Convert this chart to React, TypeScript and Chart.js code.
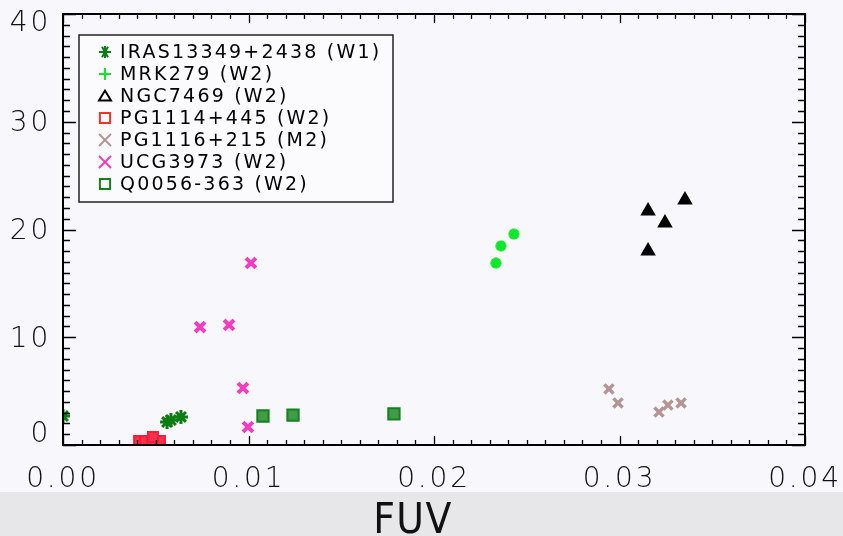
import React, { useEffect, useRef } from 'react';
import { Chart, registerables } from 'chart.js';

Chart.register(...registerables);

// ---- data ----
const irasX = [0.0, 0.00561, 0.00582, 0.00636];
const irasY = [2.69, 2.13, 2.32, 2.6];

const mrkX = [0.02431, 0.02361, 0.02334];
const mrkY = [19.58, 18.47, 16.89];

const ngcX = [0.03154, 0.03353, 0.03245, 0.03154];
const ngcY = [21.72, 22.74, 20.6, 18.0];

const pg1114X = [0.0041, 0.00442, 0.0048, 0.00523, 0.00485];
const pg1114Y = [0.37, 0.37, 0.37, 0.37, 0.74];

const pg1116X = [0.02943, 0.02992, 0.03213, 0.03261, 0.03332];
const pg1116Y = [5.2, 3.9, 3.06, 3.71, 3.9];

const ucgX = [0.01013, 0.00739, 0.00895, 0.0097, 0.00997];
const ucgY = [16.89, 10.95, 11.14, 5.29, 1.67];

const q0056X = [0.01078, 0.0124, 0.01784];
const q0056Y = [2.69, 2.78, 2.88];

const seriesLabels = [
  'IRAS13349+2438 (W1)',
  'MRK279 (W2)',
  'NGC7469 (W2)',
  'PG1114+445 (W2)',
  'PG1116+215 (M2)',
  'UCG3973 (W2)',
  'Q0056-363 (W2)',
];

const xMin = 0;
const xMax = 0.04;
const xMajorStep = 0.01;
const xMinorStep = 0.001;
const yMin = 0;
const yMax = 40;
const yMajorStep = 10;
const yMinorStep = 1;
const xTitle = 'FUV';

const pts = (xs: number[], ys: number[]) => xs.map((x, i) => ({ x, y: ys[i] }));

const TICK_FONT = "200 28px 'DejaVu Sans'";
const TICK_COLOR = '#111';

const bgPlugin = {
  id: 'bgPlugin',
  beforeDraw(chart: any) {
    const { ctx, width, height } = chart;
    ctx.save();
    ctx.fillStyle = '#f8f8fc';
    ctx.fillRect(0, 0, width, height);
    ctx.fillStyle = '#e7e7e9';
    ctx.fillRect(0, 492, width, height - 492);
    ctx.restore();
    (ctx as any).letterSpacing = '2.8px';
  },
};

const framePlugin = {
  id: 'framePlugin',
  afterDraw(chart: any) {
    const { ctx, chartArea: a, scales } = chart;
    const xs = scales.x;
    const ys = scales.y;
    ctx.save();
    (ctx as any).letterSpacing = '0px';
    ctx.strokeStyle = '#000';
    ctx.lineWidth = 1.3;
    ctx.beginPath();
    const nx = Math.round((xMax - xMin) / xMinorStep);
    for (let i = 0; i <= nx; i++) {
      const v = xMin + i * xMinorStep;
      const px = Math.round(xs.getPixelForValue(v)) + 0.5;
      const major = Math.abs(v / xMajorStep - Math.round(v / xMajorStep)) < 1e-6;
      const len = major ? 9 : 5;
      ctx.moveTo(px, a.bottom);
      ctx.lineTo(px, a.bottom - len);
      ctx.moveTo(px, a.top);
      ctx.lineTo(px, a.top + len);
    }
    const ny = Math.round((yMax - yMin) / yMinorStep);
    for (let i = 0; i <= ny; i++) {
      const v = yMin + i * yMinorStep;
      const py = Math.round(ys.getPixelForValue(v)) + 0.5;
      const major = Math.abs(v / yMajorStep - Math.round(v / yMajorStep)) < 1e-6;
      const len = major ? 13 : 7;
      ctx.moveTo(a.left, py);
      ctx.lineTo(a.left + len, py);
      ctx.moveTo(a.right, py);
      ctx.lineTo(a.right - len, py);
    }
    ctx.stroke();
    ctx.lineWidth = 2;
    ctx.strokeRect(a.left, a.top, a.right - a.left, a.bottom - a.top);

    // y tick labels (end labels sit inside the frame, as in the original)
    ctx.font = TICK_FONT;
    ctx.fillStyle = TICK_COLOR;
    ctx.textAlign = 'right';
    ctx.textBaseline = 'middle';
    (ctx as any).letterSpacing = '2.8px';
    ys.ticks.forEach((t: any) => {
      const py = ys.getPixelForValue(t.value);
      let off = 2;
      if (t.value === yMin) off = -10;
      if (t.value === yMax) off = 10;
      ctx.fillText(String(t.value), a.left - 12, py + off);
    });

    // x axis title
    (ctx as any).letterSpacing = '1.5px';
    ctx.font = "42px 'DejaVu Sans Condensed', 'Liberation Sans Narrow', sans-serif";
    ctx.fillStyle = '#111';
    ctx.textAlign = 'center';
    ctx.textBaseline = 'alphabetic';
    ctx.fillText(xTitle, 413, 533);
    ctx.restore();
  },
};

function drawSymbol(ctx: CanvasRenderingContext2D, shape: string, color: string, x: number, y: number, r: number) {
  ctx.save();
  ctx.strokeStyle = color;
  ctx.lineWidth = 2;
  ctx.beginPath();
  if (shape === 'asterisk') {
    ctx.moveTo(x - r, y); ctx.lineTo(x + r, y);
    for (const ang of [60, 120]) {
      const dx = Math.cos((ang * Math.PI) / 180) * r;
      const dy = Math.sin((ang * Math.PI) / 180) * r;
      ctx.moveTo(x - dx, y - dy); ctx.lineTo(x + dx, y + dy);
    }
    ctx.moveTo(x, y - r); ctx.lineTo(x, y + r);
  } else if (shape === 'plus') {
    ctx.moveTo(x - r, y); ctx.lineTo(x + r, y);
    ctx.moveTo(x, y - r); ctx.lineTo(x, y + r);
  } else if (shape === 'triangle') {
    ctx.moveTo(x - r, y + r * 0.75);
    ctx.lineTo(x + r, y + r * 0.75);
    ctx.lineTo(x, y - r * 0.9);
    ctx.closePath();
  } else if (shape === 'square') {
    ctx.rect(x - r * 0.85, y - r * 0.85, r * 1.7, r * 1.7);
  } else if (shape === 'x') {
    ctx.moveTo(x - r, y - r); ctx.lineTo(x + r, y + r);
    ctx.moveTo(x - r, y + r); ctx.lineTo(x + r, y - r);
  }
  ctx.stroke();
  ctx.restore();
}

const legendPlugin = {
  id: 'boxLegend',
  afterDraw(chart: any) {
    const { ctx } = chart;
    const left = 79, top = 35, right = 393, bottom = 202;
    ctx.save();
    (ctx as any).letterSpacing = '0px';
    ctx.fillStyle = '#fbfbfe';
    ctx.fillRect(left, top, right - left, bottom - top);
    ctx.strokeStyle = '#222';
    ctx.lineWidth = 1.5;
    ctx.strokeRect(left, top, right - left, bottom - top);
    const rowH = 22;
    const y0 = 52;
    chart.data.datasets.forEach((ds: any, i: number) => {
      const cy = y0 + i * rowH;
      drawSymbol(ctx, ds.legendShape, ds.legendColor, 105, cy, 6);
      (ctx as any).letterSpacing = '2.2px';
      ctx.fillStyle = '#000';
      ctx.font = "19px 'DejaVu Sans'";
      ctx.textAlign = 'left';
      ctx.textBaseline = 'middle';
      ctx.fillText(ds.label, 120, cy + 1);
    });
    ctx.restore();
  },
};

export default function App() {
  const ref = useRef<HTMLCanvasElement | null>(null);

  useEffect(() => {
    document.body.style.margin = '0';
    if (!ref.current) return;
    const tickFont = { family: "'DejaVu Sans'", size: 28, weight: '200' as any };
    const chart = new Chart(ref.current, {
      type: 'scatter',
      data: {
        datasets: [
          {
            label: seriesLabels[0], data: pts(irasX, irasY),
            pointStyle: 'star', radius: 7, borderWidth: 3,
            borderColor: '#0b7d12', backgroundColor: '#0b7d12',
            legendShape: 'asterisk', legendColor: '#0b7d12',
          } as any,
          {
            label: seriesLabels[1], data: pts(mrkX, mrkY),
            pointStyle: 'star', radius: 5.5, borderWidth: 3.5,
            borderColor: '#11e62a', backgroundColor: '#11e62a',
            legendShape: 'plus', legendColor: '#11e62a',
          } as any,
          {
            label: seriesLabels[2], data: pts(ngcX, ngcY),
            pointStyle: 'triangle', radius: 7, borderWidth: 2,
            borderColor: '#000', backgroundColor: '#000',
            legendShape: 'triangle', legendColor: '#000',
          } as any,
          {
            label: seriesLabels[3], data: pts(pg1114X, pg1114Y),
            pointStyle: 'rect', radius: 7, borderWidth: 2,
            borderColor: '#f0203a', backgroundColor: '#f8324a',
            legendShape: 'square', legendColor: '#ee3322',
          } as any,
          {
            label: seriesLabels[4], data: pts(pg1116X, pg1116Y),
            pointStyle: 'crossRot', radius: 6.5, borderWidth: 3.5,
            borderColor: '#b49594', backgroundColor: '#b49594',
            legendShape: 'x', legendColor: '#b49594',
          } as any,
          {
            label: seriesLabels[5], data: pts(ucgX, ucgY),
            pointStyle: 'crossRot', radius: 7, borderWidth: 4,
            borderColor: '#f53cc0', backgroundColor: '#f53cc0',
            legendShape: 'x', legendColor: '#f53cc0',
          } as any,
          {
            label: seriesLabels[6], data: pts(q0056X, q0056Y),
            pointStyle: 'rect', radius: 8, borderWidth: 2,
            borderColor: '#13831c', backgroundColor: 'rgba(19,131,28,0.8)',
            legendShape: 'square', legendColor: '#13831c',
          } as any,
        ],
      },
      options: {
        animation: false,
        responsive: false,
        maintainAspectRatio: false,
        layout: { padding: { top: 14, right: 38, left: 0, bottom: 0 } },
        plugins: {
          legend: { display: false },
          tooltip: { enabled: false },
        },
        scales: {
          x: {
            type: 'linear',
            min: xMin,
            max: xMax,
            grid: { display: false },
            border: { display: false },
            ticks: {
              stepSize: xMajorStep,
              padding: 10,
              color: TICK_COLOR,
              font: tickFont,
              callback: (v: any) => Number(v).toFixed(2),
            },
            title: { display: false, text: xTitle },
            afterFit: (s: any) => {
              s.height = 91;
              s.paddingLeft = 0; s.paddingRight = 0; s.paddingTop = 0; s.paddingBottom = 0;
            },
          },
          y: {
            type: 'linear',
            min: yMin,
            max: yMax,
            grid: { display: false },
            border: { display: false },
            ticks: {
              stepSize: yMajorStep,
              display: false,
            },
            afterFit: (s: any) => {
              s.width = 63;
              s.paddingLeft = 0; s.paddingRight = 0; s.paddingTop = 0; s.paddingBottom = 0;
            },
          },
        },
      } as any,
      plugins: [bgPlugin, framePlugin, legendPlugin],
    });
    return () => chart.destroy();
  }, []);

  return (
    <div style={{ position: 'absolute', left: 0, top: 0, width: 843, height: 536 }}>
      <canvas ref={ref} width={843} height={536} style={{ width: 843, height: 536, display: 'block' }} />
    </div>
  );
}
